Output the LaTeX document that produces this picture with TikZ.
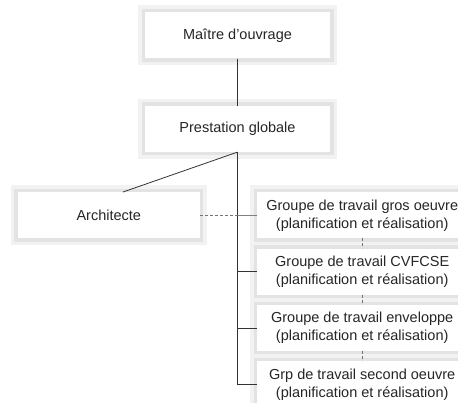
\documentclass[tikz,border=0pt]{standalone}
\usepackage{fontspec}
\setmainfont{Liberation Sans}
\usetikzlibrary{positioning}

\begin{document}
\begin{tikzpicture}[
    x=1pt, y=1pt,
    node distance=47pt,
    every node/.style={font=\fontsize{14.5}{18}\selectfont, text=black!85},
    box/.style={rectangle, fill=white, minimum width=185pt, minimum height=46pt, inner sep=0pt, align=center,
        preaction={draw=black!5, line width=14pt},
        preaction={draw=black!11, line width=7pt}},
    group/.style={box, minimum width=210pt},
    link/.style={draw=black!80, line width=0.8pt},
    dashlink/.style={draw=black!55, line width=0.8pt, dash pattern=on 3pt off 2pt}
]
\useasboundingbox (0,0) rectangle (458,403);

% Boxes
\node[box] (maitre) at (237.5,367.5) {Maître d’ouvrage};
\node[box, below=of maitre] (prest) {Prestation globale};
\node[group, below right=40pt and 19.5pt of prest.south] (g1) {Groupe de travail gros oeuvre\\(planification et réalisation)};
\node[group, below=10pt of g1] (g2) {Groupe de travail CVFCSE\\(planification et réalisation)};
\node[group, below=10pt of g2] (g3) {Groupe de travail enveloppe\\(planification et réalisation)};
\node[group, below=10pt of g3] (g4) {Grp de travail second oeuvre\\(planification et réalisation)};
\node[box, left=57pt of g1, minimum width=182pt] (archi) {Architecte};

% Trunk points
\coordinate (archtop) at ([xshift=14pt]archi.north);
\coordinate (t1) at (prest.south |- g1.west);
\coordinate (t2) at (prest.south |- g2.west);
\coordinate (t3) at (prest.south |- g3.west);

% Lines
\draw[link] (maitre) -- (prest);
\draw[link] (prest.south) -- (archtop);
\draw[link] (prest.south) |- (g4.west);
\draw[dashlink] (archi) -- (t1);
\draw[link, draw=black!50] (t1) -- (g1);
\draw[link] (t2) -- (g2);
\draw[link] (t3) -- (g3);
\draw[dashlink] (g1) -- (g2);
\draw[dashlink] (g2) -- (g3);
\draw[dashlink] (g3) -- (g4);

\end{tikzpicture}
\end{document}
